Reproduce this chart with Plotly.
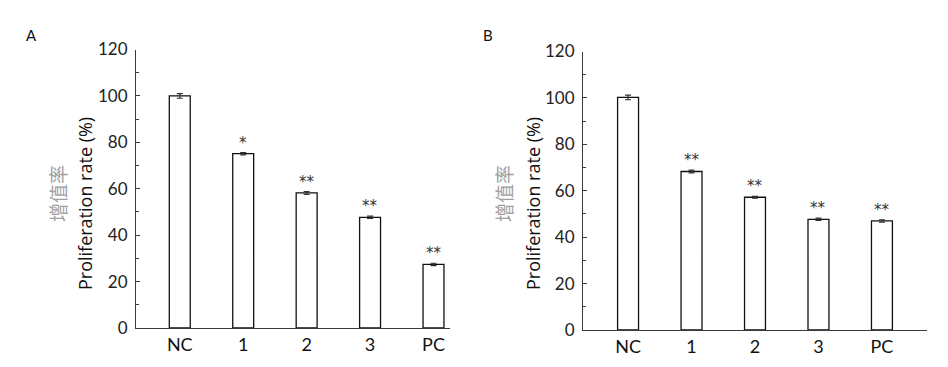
import plotly.graph_objects as go

categories = ["NC", "1", "2", "3", "PC"]
values_a = [100.0, 75.1, 58.2, 47.7, 27.4]
errors_a = [1.0, 0.5, 0.6, 0.5, 0.5]
stars_a = ["", "*", "**", "**", "**"]
values_b = [100.2, 68.3, 57.2, 47.7, 47.0]
errors_b = [1.0, 0.6, 0.4, 0.5, 0.5]
stars_b = ["", "**", "**", "**", "**"]
y_ticks = [0, 20, 40, 60, 80, 100, 120]
panel_labels = ["A", "B"]
ytitle_cn = "增值率"
ytitle_en = "Proliferation rate (%)"

W, H = 948, 367
FONT = "Lato"
AX = "#3a3a3a"

fig = go.Figure()

panels = [
    dict(vals=values_a, errs=errors_a, stars=stars_a, xa="x", ya="y",
         dom=[136 / W, 450 / W], rng=[-0.69, 4.26], ybot=328),
    dict(vals=values_b, errs=errors_b, stars=stars_b, xa="x2", ya="y2",
         dom=[583 / W, 927 / W], rng=[-0.71, 4.71], ybot=330),
]

for i, p in enumerate(panels):
    ydom = [(H - p["ybot"]) / H, (H - (p["ybot"] - 278.5)) / H]
    fig.add_trace(go.Bar(
        x=list(range(len(categories))), y=p["vals"],
        xaxis=p["xa"], yaxis=p["ya"],
        width=0.33,
        marker=dict(color="white", line=dict(color="#111111", width=1.3)),
        error_y=dict(type="data", array=p["errs"], visible=True,
                     color="#333333", thickness=1.2, width=3),
        showlegend=False, hoverinfo="skip",
    ))
    for j, s in enumerate(p["stars"]):
        if s:
            fig.add_annotation(
                x=j, y=p["vals"][j] + p["errs"][j], xref=p["xa"], yref=p["ya"],
                text=s, showarrow=False, xanchor="center", yanchor="bottom", yshift=-1,
                font=dict(family="DejaVu Sans", size=15, color="#333333"),
            )
    ax_x = dict(
        domain=p["dom"], range=p["rng"],
        tickmode="array", tickvals=list(range(len(categories))), ticktext=categories,
        showline=True, linecolor=AX, linewidth=1.2, ticks="", showgrid=False,
        zeroline=False, tickfont=dict(family=FONT, size=18, color="#111111"),
        anchor=p["ya"], automargin=False,
    )
    ax_y = dict(
        domain=ydom, range=[0, 120], tickvals=y_ticks,
        showline=True, linecolor=AX, linewidth=1.2, ticks="inside", ticklen=4,
        tickcolor=AX, showgrid=False, zeroline=False,
        minor=dict(dtick=10, ticks="inside", ticklen=3, tickcolor=AX, showgrid=False),
        tickfont=dict(family=FONT, size=17, color="#222222"),
        anchor=p["xa"], ticklabelstandoff=4, automargin=False,
    )
    if i == 0:
        fig.update_layout(xaxis=ax_x, yaxis=ax_y)
    else:
        fig.update_layout(xaxis2=ax_x, yaxis2=ax_y)

for xc_cn, xc_en, xl, lab in [(57, 85, 31, panel_labels[0]), (503, 533, 488, panel_labels[1])]:
    fig.add_annotation(x=xc_cn / W, y=(H - 194) / H, xref="paper", yref="paper",
                       xanchor="center", yanchor="middle",
                       text=ytitle_cn, textangle=-90, showarrow=False,
                       font=dict(family="Noto Sans CJK SC", size=19, color="#a0a0a0"))
    fig.add_annotation(x=xc_en / W, y=(H - 204) / H, xref="paper", yref="paper",
                       xanchor="center", yanchor="middle",
                       text=ytitle_en, textangle=-90, showarrow=False,
                       font=dict(family="Open Sans", size=18, color="#111111"))
    fig.add_annotation(x=xl / W, y=(H - 35) / H, xref="paper", yref="paper",
                       xanchor="center", yanchor="middle",
                       text=lab, showarrow=False,
                       font=dict(family=FONT, size=15, color="#111111"))

fig.update_layout(
    width=W, height=H, margin=dict(l=0, r=0, t=0, b=0, autoexpand=False),
    paper_bgcolor="white", plot_bgcolor="white",
)

fig.write_html("out.html", config={"displayModeBar": False},
               post_script="document.body.style.margin='0';")
